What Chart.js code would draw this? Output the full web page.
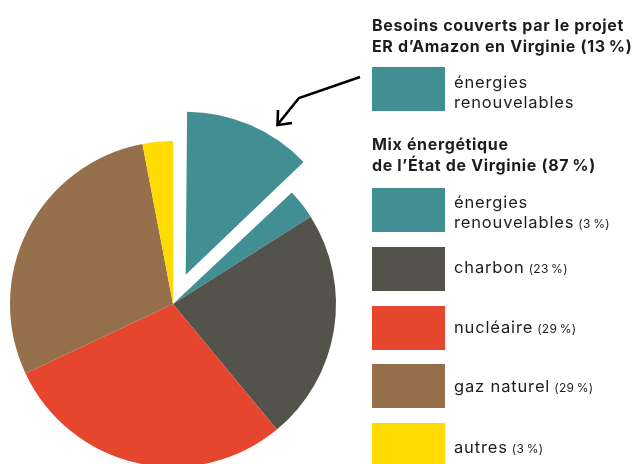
<!DOCTYPE html>
<html>
<head>
<meta charset="utf-8">
<script src="https://cdn.jsdelivr.net/npm/chart.js@4.4.1/dist/chart.umd.min.js"></script>
<style>
  html, body { margin: 0; padding: 0; background: #fff; }
  #wrap { position: relative; width: 638px; height: 464px; overflow: hidden; font-family: Inter, "Open Sans", sans-serif; color: #1c1c1c; }
  #c { position: absolute; left: 0; top: 0; }
  .title { position: absolute; left: 372px; font-weight: 700; font-size: 16px; line-height: 20.5px; white-space: nowrap; letter-spacing: 0.65px; }
  .sw { position: absolute; left: 372px; width: 73px; height: 44px; }
  .lab { position: absolute; left: 454px; font-size: 16.5px; line-height: 20px; white-space: nowrap; letter-spacing: 0.85px; }
  .pct { font-size: 12px; letter-spacing: 0.3px; margin-left: 4px; }
</style>
</head>
<body>
<div id="wrap">
  <canvas id="c" width="638" height="464"></canvas>
</div>
<script>
// ---- data ----
const categories = ['énergies renouvelables', 'énergies renouvelables', 'charbon', 'nucléaire', 'gaz naturel', 'autres'];
const shares = [13, 3, 23, 29, 29, 3];
const labelLines = [['énergies', 'renouvelables'], ['énergies', 'renouvelables'], ['charbon'], ['nucléaire'], ['gaz naturel'], ['autres']];
const showPct = [false, true, true, true, true, true];
const groupTitles = [
  ['Besoins couverts par le projet', 'ER d’Amazon en Virginie (13\u202F%)'],
  ['Mix énergétique', 'de l’État de Virginie (87\u202F%)']
];
const colors = ['#428F93', '#428F93', '#54534B', '#E6452E', '#95704B', '#FFDB00'];
const explode = [128, 0, 0, 0, 0, 0]; // Chart.js draws offset/4 => 32px

// ---- legend (HTML) ----
const wrap = document.getElementById('wrap');
const titleTops = [15, 134];
groupTitles.forEach((lines, i) => {
  const d = document.createElement('div');
  d.className = 'title';
  d.style.top = titleTops[i] + 'px';
  d.innerHTML = lines.join('<br>');
  wrap.appendChild(d);
});
const swTops = [67, 188, 247, 306, 364, 423];
const labTops = [72, 192, 257, 317, 376, 437];
categories.forEach((cat, i) => {
  const s = document.createElement('div');
  s.className = 'sw';
  s.style.top = swTops[i] + 'px';
  s.style.background = colors[i];
  wrap.appendChild(s);
  const l = document.createElement('div');
  l.className = 'lab';
  l.style.top = labTops[i] + 'px';
  let html = labelLines[i].join('<br>');
  if (showPct[i]) html += '<span class="pct">(' + shares[i] + '\u202F%)</span>';
  l.innerHTML = html;
  wrap.appendChild(l);
});

// keep exploded slice at same radius as the others (Chart.js enlarges offset arcs)
const radiusFix = {
  id: 'radiusFix',
  afterDatasetUpdate(chart, args) {
    const meta = args.meta;
    meta.data.forEach((arc, i) => {
      const off = (explode[i] || 0) / 4;
      if (!off) return;
      const circ = arc.endAngle - arc.startAngle;
      const fix = 1 - Math.sin(Math.min(Math.PI, circ));
      arc.outerRadius = arc.outerRadius - off * fix;
    });
  }
};

// ---- arrow annotation ----
const arrowPlugin = {
  id: 'arrow',
  afterDraw(chart) {
    const ctx = chart.ctx;
    ctx.save();
    ctx.strokeStyle = '#000';
    ctx.lineWidth = 2.6;
    ctx.lineJoin = 'miter';
    ctx.lineCap = 'butt';
    ctx.beginPath();
    ctx.moveTo(360, 77);
    ctx.lineTo(299, 98);
    ctx.lineTo(278, 124);
    ctx.stroke();
    ctx.beginPath();
    ctx.moveTo(278, 110);
    ctx.lineTo(277.5, 125);
    ctx.lineTo(292, 123);
    ctx.stroke();
    ctx.restore();
  }
};

new Chart(document.getElementById('c'), {
  type: 'pie',
  data: {
    labels: categories,
    datasets: [{
      data: shares,
      backgroundColor: colors,
      borderWidth: 0,
      offset: explode,
      clip: false
    }]
  },
  options: {
    responsive: false,
    devicePixelRatio: 1,
    animation: false,
    events: [],
    radius: 163,
    layout: { padding: { left: 0, right: 292, top: 144, bottom: 0 } },
    plugins: { legend: { display: false }, tooltip: { enabled: false } }
  },
  plugins: [radiusFix, arrowPlugin]
});
</script>
</body>
</html>
